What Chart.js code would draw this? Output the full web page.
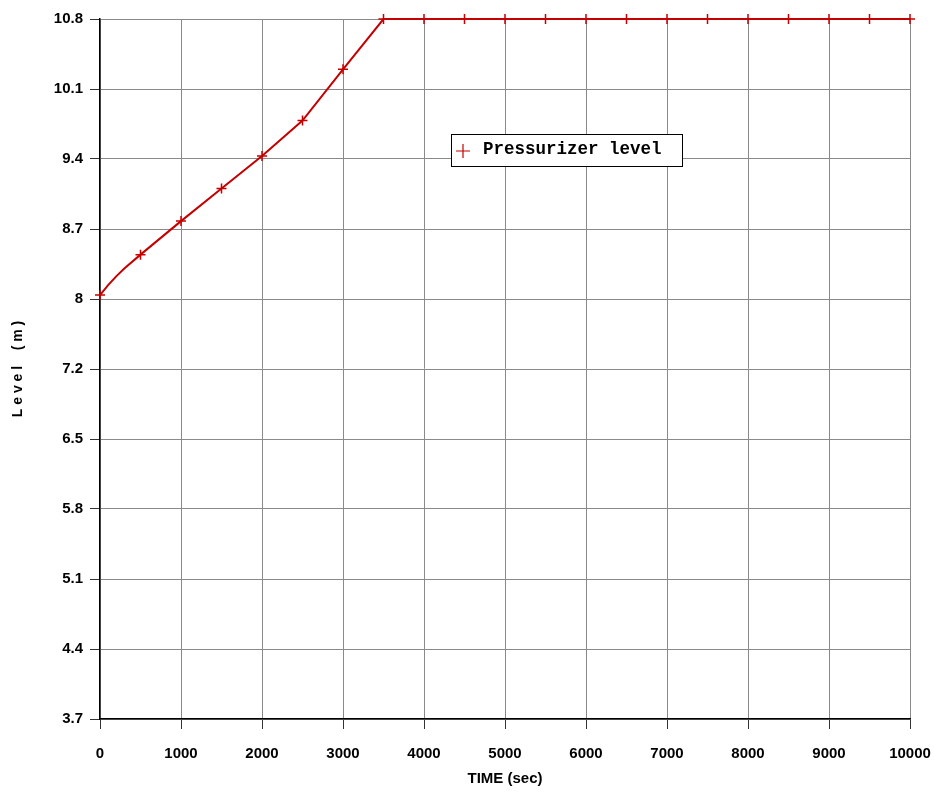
<!DOCTYPE html>
<html>
<head>
<meta charset="utf-8">
<script src="https://cdn.jsdelivr.net/npm/chart.js@4.4.1/dist/chart.umd.min.js"></script>
<style>
html,body{margin:0;padding:0;background:#fff;}
#wrap{width:934px;height:794px;position:relative;}
</style>
</head>
<body>
<div id="wrap"><canvas id="c" width="934" height="794"></canvas></div>
<script>
// ---- data ----
const timeSec = [0, 100, 200, 300, 500, 1000, 1500, 2000, 2500, 3000, 3500, 4000, 4500, 5000, 5500, 6000, 6500, 7000, 7500, 8000, 8500, 9000, 9500, 10000];
const levelM  = [8.0, 8.10, 8.19, 8.27, 8.41, 8.75, 9.08, 9.41, 9.77, 10.29, 10.8, 10.8, 10.8, 10.8, 10.8, 10.8, 10.8, 10.8, 10.8, 10.8, 10.8, 10.8, 10.8, 10.8];
const markerTimes = [0, 500, 1000, 1500, 2000, 2500, 3000, 3500, 4000, 4500, 5000, 5500, 6000, 6500, 7000, 7500, 8000, 8500, 9000, 9500, 10000];
const yTickValues = [3.7, 4.41, 5.12, 5.83, 6.54, 7.25, 7.96, 8.67, 9.38, 10.09, 10.8];
const yTickLabels = ['3.7', '4.4', '5.1', '5.8', '6.5', '7.2', '8', '8.7', '9.4', '10.1', '10.8'];
const xTickValues = [0, 1000, 2000, 3000, 4000, 5000, 6000, 7000, 8000, 9000, 10000];
const seriesName = 'Pressurizer level';

const RED = '#c40000';
const tickFont = {family: "'Liberation Sans', Arial, sans-serif", size: 15, weight: 'bold'};

const points = timeSec.map((t, i) => ({x: t, y: levelM[i]}));

const legendPlugin = {
  id: 'boxLegend',
  afterDraw(chart) {
    const ctx = chart.ctx;
    const x0 = 451, y0 = 134, w = 231, h = 32;
    ctx.save();
    ctx.fillStyle = '#fff';
    ctx.fillRect(x0, y0, w, h);
    ctx.strokeStyle = '#000';
    ctx.lineWidth = 1;
    ctx.strokeRect(x0 + 0.5, y0 + 0.5, w, h);
    ctx.strokeStyle = RED;
    ctx.lineWidth = 1.2;
    ctx.beginPath();
    ctx.moveTo(463, 144); ctx.lineTo(463, 158);
    ctx.moveTo(456, 151); ctx.lineTo(470, 151);
    ctx.stroke();
    ctx.fillStyle = '#000';
    ctx.font = "bold 17.5px 'Liberation Mono', 'DejaVu Sans Mono', monospace";
    ctx.textBaseline = 'middle';
    ctx.textAlign = 'left';
    ctx.fillText(seriesName, 483, 150);
    ctx.restore();
  }
};

new Chart(document.getElementById('c'), {
  type: 'line',
  data: {
    datasets: [{
      label: seriesName,
      data: points,
      borderColor: RED,
      backgroundColor: RED,
      borderWidth: 2,
      tension: 0,
      clip: false,
      pointStyle: 'cross',
      pointRadius: ctx => markerTimes.includes(ctx.raw ? ctx.raw.x : -1) ? 5 : 0,
      pointBorderColor: RED,
      pointBorderWidth: 1.5,
      pointHoverRadius: 0
    }]
  },
  options: {
    responsive: false,
    animation: false,
    layout: {padding: {top: 19, right: 24, left: 0, bottom: 0}},
    plugins: {legend: {display: false}, tooltip: {enabled: false}},
    scales: {
      x: {
        type: 'linear',
        min: 0, max: 10000,
        afterBuildTicks: s => { s.ticks = xTickValues.map(v => ({value: v})); },
        afterFit: s => { s.height = 75; s.paddingRight = 0; s.paddingLeft = 0; },
        ticks: {font: tickFont, color: '#000', padding: 16, maxRotation: 0, callback: v => String(v)},
        grid: {color: '#8a8a8a', lineWidth: 1, tickLength: 10, tickColor: '#333'},
        border: {color: '#000', width: 1.5},
        title: {display: true, text: 'TIME (sec)', color: '#000',
                font: {family: "'Liberation Sans', Arial, sans-serif", size: 15, weight: 'bold'},
                padding: {top: 0, bottom: 6}}
      },
      y: {
        type: 'linear',
        min: 3.7, max: 10.8,
        afterBuildTicks: s => { s.ticks = yTickValues.map(v => ({value: v})); },
        afterFit: s => { s.width = 100; s.paddingTop = 0; s.paddingBottom = 0; },
        ticks: {font: tickFont, color: '#000', padding: 7,
                callback: (v, i) => yTickLabels[i]},
        grid: {color: '#8a8a8a', lineWidth: 1, tickLength: 10, tickColor: '#333'},
        border: {color: '#000', width: 1.5},
        title: {display: true, text: 'L e v e l    ( m )', color: '#000',
                font: {family: "'Liberation Sans', Arial, sans-serif", size: 14, weight: 'bold'},
                padding: {top: 10, bottom: 0}}
      }
    }
  },
  plugins: [legendPlugin]
});
</script>
</body>
</html>
